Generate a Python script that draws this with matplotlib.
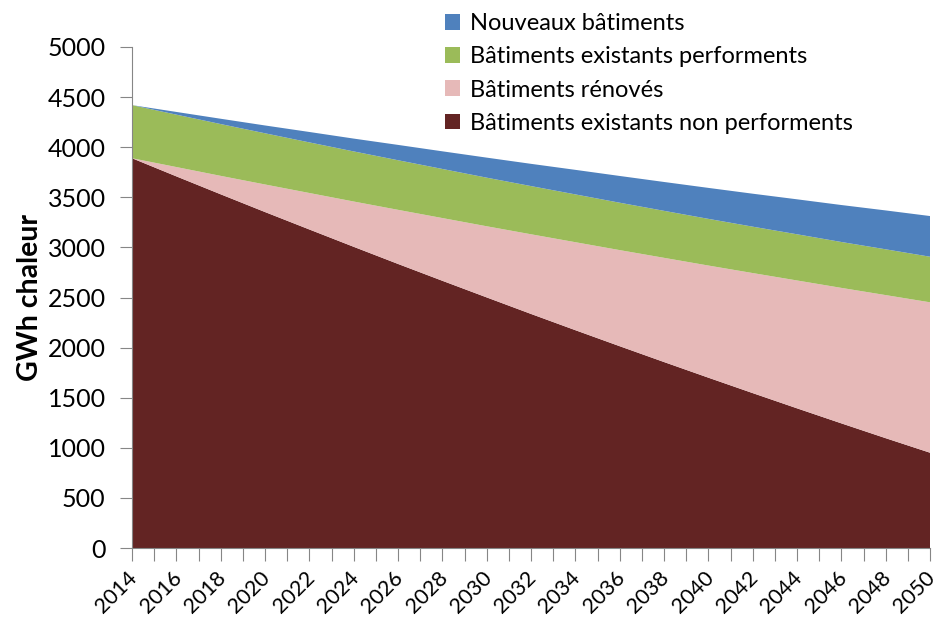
import matplotlib
matplotlib.use("Agg")
import matplotlib.pyplot as plt
import matplotlib.transforms as mtransforms
import numpy as np

plt.rcParams['font.family'] = ['Lato', 'DejaVu Sans']

years = [2014, 2016, 2018, 2020, 2022, 2024, 2026, 2028, 2030, 2032,
         2034, 2036, 2038, 2040, 2042, 2044, 2046, 2048, 2050]

# GWh chaleur (stacked, bottom to top)
non_perf = [3890, 3709, 3530, 3353, 3179, 3006, 2835, 2667, 2501, 2336,
            2174, 2014, 1856, 1700, 1546, 1394, 1244, 1096, 951]
renoves = [0, 93, 184, 275, 364, 452, 540, 626, 710, 795,
           878, 959, 1040, 1119, 1198, 1276, 1352, 1428, 1501]
perf = [530, 523, 517, 511, 505, 500, 495, 490, 485, 481,
        477, 473, 469, 466, 463, 461, 458, 457, 455]
nouveaux = [0, 27, 53, 78, 104, 128, 153, 176, 200, 222,
            245, 267, 288, 309, 329, 349, 369, 388, 406]

labels = ["Bâtiments existants non performents", "Bâtiments rénovés",
          "Bâtiments existants performents", "Nouveaux bâtiments"]
colors = ["#632423", "#E6B9B8", "#9BBB59", "#4F81BD"]

fig = plt.figure(figsize=(9.39, 6.2), dpi=100)
ax = fig.add_axes([132/939, 1 - 548/620, (930 - 132)/939, (548 - 47)/620])

ax.stackplot(years, non_perf, renoves, perf, nouveaux,
             colors=colors, labels=labels, linewidth=0)

ax.set_xlim(2014, 2050)
ax.set_ylim(0, 5000)
ax.set_yticks(np.arange(0, 5001, 500))
ax.tick_params(axis='y', labelsize=18, length=9, color='#868686', pad=10)

all_years = np.arange(2014, 2051)
ax.set_xticks(all_years)
ax.set_xticklabels([str(y) if y % 2 == 0 else "" for y in all_years],
                   rotation=45, ha='right', rotation_mode='anchor')
ax.tick_params(axis='x', labelsize=15.5, length=9, color='#868686', pad=5)
shift = mtransforms.ScaledTranslation(-5/100, 0, fig.dpi_scale_trans)
for t in ax.get_xticklabels():
    t.set_transform(t.get_transform() + shift)

for s in ['top', 'right']:
    ax.spines[s].set_visible(False)
for s in ['left', 'bottom']:
    ax.spines[s].set_color('#868686')

ax.set_ylabel("GWh chaleur", fontsize=20.5, fontweight='bold')
ax.yaxis.set_label_coords(-0.111, 0.5)

handles, labs = ax.get_legend_handles_labels()
fig.legend(handles[::-1], labs[::-1], loc='upper left',
           bbox_to_anchor=(432/939, 1 - 0/620), frameon=False,
           fontsize=17, handlelength=0.65, handleheight=0.65,
           handletextpad=0.4, labelspacing=0.52, borderaxespad=0.15)

fig.savefig("out.png", dpi=100)
